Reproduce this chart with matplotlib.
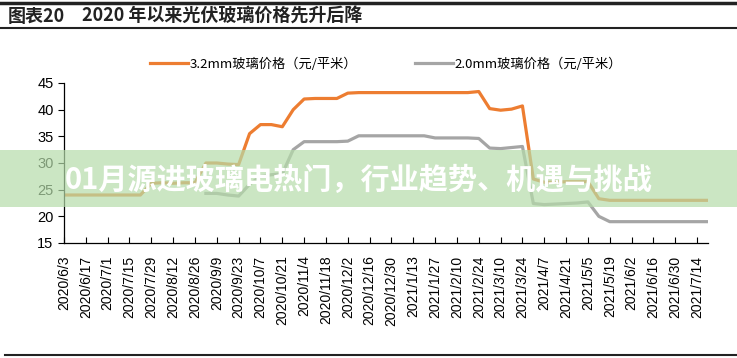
import numpy as np
import matplotlib
matplotlib.use("Agg")
import matplotlib.pyplot as plt
from matplotlib.lines import Line2D
from matplotlib.patches import Rectangle

plt.rcParams['font.family'] = ['Liberation Sans', 'Noto Sans CJK SC', 'DejaVu Sans']
cjk = ['Noto Sans CJK SC', 'DejaVu Sans']

# weekly dates, labels shown every other week
tick_labels = ['2020/6/3', '2020/6/17', '2020/7/1', '2020/7/15', '2020/7/29', '2020/8/12',
               '2020/8/26', '2020/9/9', '2020/9/23', '2020/10/7', '2020/10/21', '2020/11/4',
               '2020/11/18', '2020/12/2', '2020/12/16', '2020/12/30', '2021/1/13', '2021/1/27',
               '2021/2/10', '2021/2/24', '2021/3/10', '2021/3/24', '2021/4/7', '2021/4/21',
               '2021/5/5', '2021/5/19', '2021/6/2', '2021/6/16', '2021/6/30', '2021/7/14']

# 3.2mm glass price (yuan / m2), one value per week
price_32 = [24, 24, 24, 24, 24, 24, 24, 24, 26.2, 26.3,
            26.2, 26.3, 26.3, 30, 30, 29.8, 29.7, 35.5, 37.2, 37.2,
            36.8, 40, 42, 42.1, 42.1, 42.1, 43.1, 43.2, 43.2, 43.2,
            43.2, 43.2, 43.2, 43.2, 43.2, 43.2, 43.2, 43.2, 43.4, 40.2,
            39.9, 40.1, 40.7, 27, 26.4, 26.4, 26.5, 26.5, 26.5, 23.3,
            23, 23, 23, 23, 23, 23, 23, 23, 23, 23]

# 2.0mm glass price (yuan / m2), starts later
price_20 = [np.nan] * 13 + [24.3, 24.3, 24.0, 23.8, 26, 27.5, 27.8,
            28, 32.5, 34, 34, 34, 34, 34.1, 35.1, 35.1, 35.1,
            35.1, 35.1, 35.1, 35.1, 34.7, 34.7, 34.7, 34.7, 34.6, 32.8,
            32.7, 32.9, 33.1, 22.4, 22.2, 22.3, 22.4, 22.5, 22.7, 20,
            19, 19, 19, 19, 19, 19, 19, 19, 19, 19]

legend_names = ['3.2mm玻璃价格（元/平米）', '2.0mm玻璃价格（元/平米）']
colors = ['#ED7D31', '#A5A5A5']
y_ticks = [15, 20, 25, 30, 35, 40, 45]

W, H = 737, 358
fig = plt.figure(figsize=(W / 100, H / 100), dpi=100)
ax = fig.add_axes([64 / W, 1 - 243 / H, (708 - 64) / W, (243 - 83) / H])

x = np.arange(len(price_32))
ax.plot(x, price_32, color=colors[0], lw=2.3, solid_joinstyle='round', label=legend_names[0])
ax.plot(x, price_20, color=colors[1], lw=2.3, solid_joinstyle='round', label=legend_names[1])

ax.set_xlim(0, len(price_32) - 1)
ax.set_ylim(15, 45)
ax.set_yticks(y_ticks)
ax.set_xticks(np.arange(0, len(price_32), 2))
ax.set_xticklabels(tick_labels, rotation=90, fontsize=10)
ax.tick_params(axis='x', direction='in', length=4, width=0.8, pad=9)
ax.tick_params(axis='y', direction='out', length=4, width=0.8, labelsize=10.5)
for s in ['top', 'right']:
    ax.spines[s].set_visible(False)
for s in ['left', 'bottom']:
    ax.spines[s].set_linewidth(0.9)

fig.legend(loc='center', bbox_to_anchor=(386 / W, 1 - 64 / H), ncol=2, frameon=False,
           prop={'family': cjk, 'size': 9.5}, handlelength=2.9, handletextpad=0.1,
           columnspacing=4.4)

# header and frame lines
fig.add_artist(Line2D([0, 1], [1 - 3 / H] * 2, color='#222222', lw=2.5))
fig.add_artist(Line2D([0, 1], [1 - 28 / H] * 2, color='#222222', lw=1.5))
fig.add_artist(Line2D([5 / W, 1], [1 - 355 / H] * 2, color='#222222', lw=1.5))
fig.text(8 / W, 1 - 16 / H, '图表20', family=cjk, fontsize=13, fontweight='bold',
         color='#222222', va='center')
fig.text(82 / W, 1 - 16 / H, '2020 年以来光伏玻璃价格先升后降', family=cjk, fontsize=13,
         fontweight='bold', color='#222222', va='center')

# translucent banner over the chart
fig.add_artist(Rectangle((0, 1 - 207 / H), 1, 57 / H, transform=fig.transFigure,
                         facecolor='#b5dcaa', alpha=0.7, edgecolor='none', zorder=5))
fig.text(65 / W, 1 - 180 / H, '01月源进玻璃电热门，行业趋势、机遇与挑战', family=cjk,
         fontsize=21, fontweight='bold', color='white', va='center', zorder=6)

fig.savefig('out.png', dpi=100)
